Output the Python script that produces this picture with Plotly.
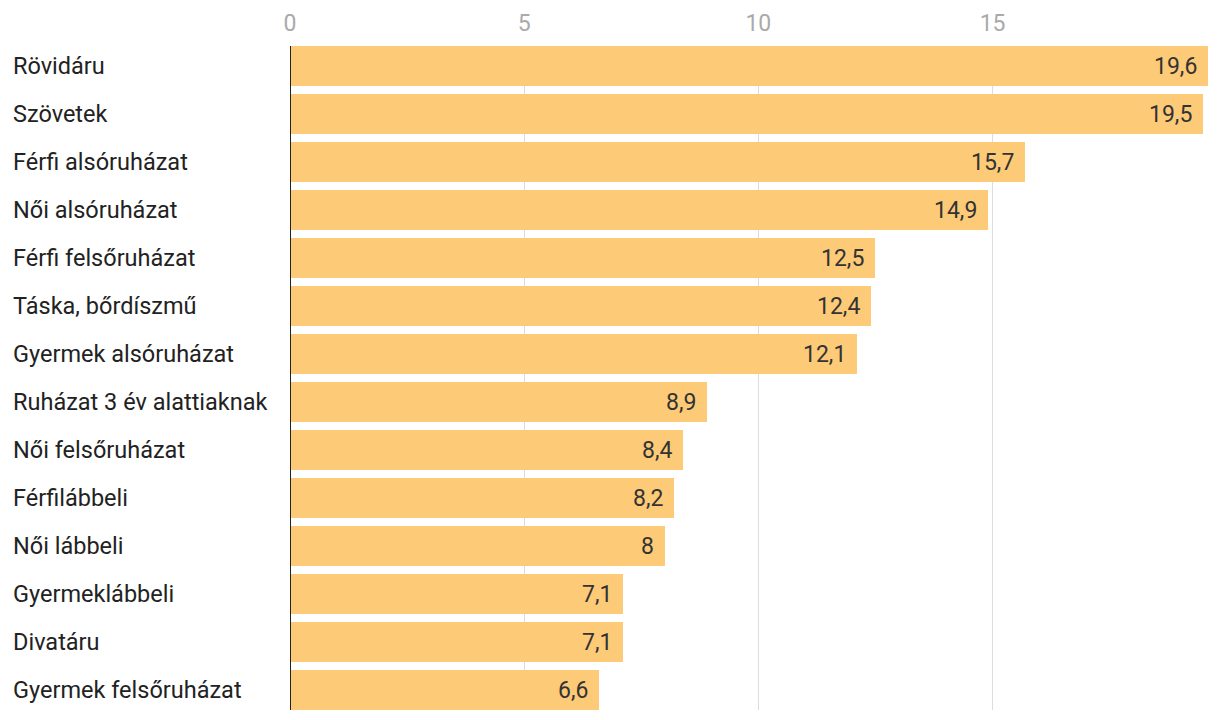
import plotly.graph_objects as go

categories = ["Rövidáru", "Szövetek", "Férfi alsóruházat", "Női alsóruházat",
              "Férfi felsőruházat", "Táska, bőrdíszmű", "Gyermek alsóruházat",
              "Ruházat 3 év alattiaknak", "Női felsőruházat", "Férfilábbeli",
              "Női lábbeli", "Gyermeklábbeli", "Divatáru", "Gyermek felsőruházat"]
values = [19.6, 19.5, 15.7, 14.9, 12.5, 12.4, 12.1, 8.9, 8.4, 8.2, 8.0, 7.1, 7.1, 6.6]
tick_vals = [0, 5, 10, 15]
tick_text = ["0", "5", "10", "15"]

# page body has an 8px margin; figure is sized to fit the 1220x720 window
OFF = 8
W, H = 1220 - OFF, 720 - OFF
ML, MT = 290 - OFF, 46 - OFF
MR = W - (1208 - OFF)
MB = H - (710 - OFF)
FONT = "Roboto"

def fmt(v):
    return ("%g" % v).replace(".", ",")

fig = go.Figure()
fig.add_trace(go.Bar(
    x=values, y=list(range(len(categories))), orientation="h",
    width=40/48, marker=dict(color="#fdca78", line=dict(width=0)),
    hoverinfo="skip", showlegend=False,
))

ann = []
pw = W - ML - MR
for i, (c, v) in enumerate(zip(categories, values)):
    ann.append(dict(x=(13 - OFF - 2 - ML) / pw, xref="paper", y=i, yref="y",
                    text=c, showarrow=False, xanchor="left", yanchor="middle",
                    font=dict(family=FONT, size=23.5, color="#222")))
    ann.append(dict(x=v, xref="x", y=i, yref="y", text=fmt(v), showarrow=False,
                    xanchor="right", yanchor="middle", xshift=-9,
                    font=dict(family=FONT, size=23, color="#333")))

half = (40/48) / 2
fig.update_layout(
    width=W, height=H, margin=dict(l=ML, r=MR, t=MT, b=MB, autoexpand=False),
    paper_bgcolor="white", plot_bgcolor="white",
    font=dict(family=FONT),
    bargap=0,
    xaxis=dict(side="top", range=[0, 19.6], tickvals=tick_vals, ticktext=tick_text,
               showgrid=True, gridcolor="#dddddd", gridwidth=1, zeroline=False,
               showline=False, ticks="", ticklabelstandoff=9, automargin=False,
               tickfont=dict(family=FONT, size=23, color="#aaaaaa")),
    yaxis=dict(range=[len(categories) - 1 + half, -half], showticklabels=False,
               showgrid=False, zeroline=False, showline=False, ticks="",
               automargin=False),
    annotations=ann,
    shapes=[dict(type="line", xref="x", yref="paper", x0=0, x1=0, y0=0, y1=1,
                 line=dict(color="#222", width=2))],
)

fig.write_html("out.html")
